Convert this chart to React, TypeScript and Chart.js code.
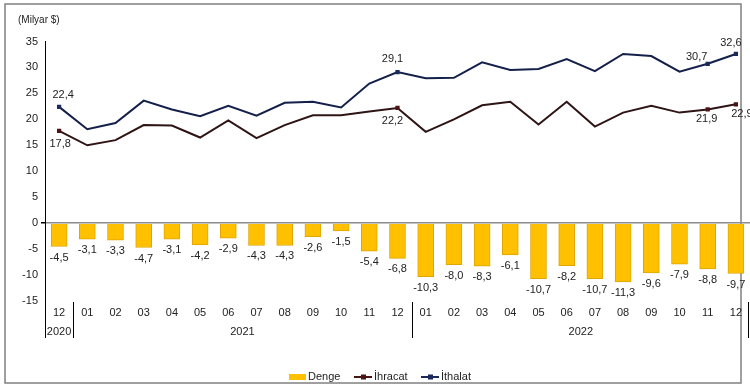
import { useEffect, useRef } from 'react';
import { Chart, registerables } from 'chart.js';

Chart.register(...registerables);

const months = ['12', '01', '02', '03', '04', '05', '06', '07', '08', '09', '10', '11', '12', '01', '02', '03', '04', '05', '06', '07', '08', '09', '10', '11', '12'];
const yearLabels = ['2020', '2021', '2022'];
const yearStart = [0, 1, 13];
const yearEnd = [0, 12, 24];
const denge = [-4.5, -3.1, -3.3, -4.7, -3.1, -4.2, -2.9, -4.3, -4.3, -2.6, -1.5, -5.4, -6.8, -10.3, -8.0, -8.3, -6.1, -10.7, -8.2, -10.7, -11.3, -9.6, -7.9, -8.8, -9.7];
const ihracat = [17.8, 15.0, 16.0, 18.9, 18.8, 16.5, 19.8, 16.4, 18.9, 20.8, 20.8, 21.5, 22.2, 17.6, 20.0, 22.7, 23.4, 19.0, 23.4, 18.6, 21.3, 22.6, 21.3, 21.9, 22.9];
const ithalat = [22.4, 18.1, 19.3, 23.6, 21.9, 20.6, 22.6, 20.7, 23.2, 23.4, 22.3, 26.9, 29.1, 27.9, 28.0, 31.0, 29.5, 29.7, 31.6, 29.3, 32.6, 32.2, 29.2, 30.7, 32.6];
const markedPoints = [0, 12, 23, 24];
const yTicks = { min: -15, max: 35, step: 5 };

const FONT = '"Liberation Sans", Arial, sans-serif';
const fmt = (v: number) => v.toFixed(1).replace('.', ',');

export default function App() {
  const ref = useRef<HTMLCanvasElement | null>(null);
  useEffect(() => {
    if (!ref.current) return;
    const importOff: Record<number, [number, number]> = { 0: [4, -12], 12: [-5, -13], 23: [-11, -7], 24: [-5, -11] };
    const exportOff: Record<number, [number, number]> = { 0: [1, 13], 12: [-5, 13], 23: [-1, 9], 24: [6, 10] };
    const decor = {
      id: 'decor',
      beforeDraw(chart: any) {
        const c = chart.ctx;
        c.save();
        c.fillStyle = '#fff';
        c.fillRect(0, 0, chart.width, chart.height);
        c.strokeStyle = '#808080';
        c.lineWidth = 1.5;
        c.strokeRect(5, 4, 736, 379);
        c.restore();
      },
      afterDraw(chart: any) {
        const c = chart.ctx;
        const x = chart.scales.x;
        const y = chart.scales.y;
        const area = chart.chartArea;
        c.save();
        c.fillStyle = '#222';
        c.textAlign = 'center';
        c.textBaseline = 'middle';
        c.font = `10px ${FONT}`;
        c.textAlign = 'left';
        c.fillText('(Milyar $)', 18, 20);
        c.textAlign = 'center';
        c.font = `11px ${FONT}`;
        months.forEach((m, i) => c.fillText(m, x.getPixelForValue(i), 313));
        yearLabels.forEach((yl, k) => {
          const cx = (x.getPixelForValue(yearStart[k]) + x.getPixelForValue(yearEnd[k])) / 2;
          c.fillText(yl, cx, 332);
        });
        c.strokeStyle = '#000';
        c.lineWidth = 1;
        const band = x.getPixelForValue(1) - x.getPixelForValue(0);
        const seps = [area.left, x.getPixelForValue(0) + band / 2, x.getPixelForValue(12) + band / 2, Math.min(area.right - 1.5, 748)];
        seps.forEach((sx, k) => {
          c.beginPath();
          c.moveTo(Math.round(sx) + 0.5, k === 0 ? area.bottom : area.bottom + 1);
          c.lineTo(Math.round(sx) + 0.5, 338);
          c.stroke();
        });
        const barMeta = chart.getDatasetMeta(0);
        c.font = `11px ${FONT}`;
        barMeta.data.forEach((el: any, i: number) => {
          c.fillText(fmt(denge[i]), el.x, el.y + 11);
        });
        markedPoints.forEach((i) => {
          const xi = x.getPixelForValue(i);
          const yi = y.getPixelForValue(ithalat[i]);
          c.fillText(fmt(ithalat[i]), xi + importOff[i][0], yi + importOff[i][1]);
          const ye = y.getPixelForValue(ihracat[i]);
          c.fillText(fmt(ihracat[i]), xi + exportOff[i][0], ye + exportOff[i][1]);
        });
        const ly = 377;
        c.fillStyle = '#FFC000';
        c.fillRect(289, ly - 3, 17, 6);
        c.fillStyle = '#222';
        c.textAlign = 'left';
        c.fillText('Denge', 308, ly);
        const legLine = (x0: number, color: string, label: string) => {
          c.strokeStyle = color;
          c.lineWidth = 2;
          c.beginPath();
          c.moveTo(x0, ly);
          c.lineTo(x0 + 18, ly);
          c.stroke();
          c.fillStyle = color;
          c.fillRect(x0 + 7, ly - 2.5, 5, 5);
          c.fillStyle = '#222';
          c.fillText(label, x0 + 20, ly);
        };
        legLine(354, '#4a1414', 'İhracat');
        legLine(421, '#1b2a5c', 'İthalat');
        c.restore();
      },
    };
    const chart = new Chart(ref.current, {
      data: {
        labels: months,
        datasets: [
          {
            type: 'bar',
            label: 'Denge',
            data: denge,
            backgroundColor: '#FFC000',
            borderColor: '#E0A500',
            borderWidth: 1,
            barThickness: 16,
            order: 3,
          } as any,
          {
            type: 'line',
            label: 'İhracat',
            data: ihracat,
            borderColor: '#2e1414',
            backgroundColor: '#4a1414',
            borderWidth: 2,
            pointStyle: 'rect',
            pointRadius: (ctx: any) => (markedPoints.includes(ctx.dataIndex) ? 3 : 0),
            pointBorderWidth: 0,
            tension: 0,
            order: 1,
          },
          {
            type: 'line',
            label: 'İthalat',
            data: ithalat,
            borderColor: '#14204a',
            backgroundColor: '#1b2a5c',
            borderWidth: 2,
            pointStyle: 'rect',
            pointRadius: (ctx: any) => (markedPoints.includes(ctx.dataIndex) ? 3 : 0),
            pointBorderWidth: 0,
            tension: 0,
            order: 2,
          },
        ],
      },
      options: {
        responsive: false,
        animation: false,
        layout: { autoPadding: false, padding: { top: 41.5, bottom: 89, left: 0, right: 0 } },
        plugins: { legend: { display: false }, tooltip: { enabled: false } },
        scales: {
          x: { type: 'category', display: false, offset: true },
          y: {
            min: yTicks.min,
            max: yTicks.max,
            afterFit: (s: any) => {
              s.width = 45;
            },
            ticks: { stepSize: yTicks.step, padding: 3, color: '#222', font: { family: FONT, size: 11 } },
            grid: {
              color: (ctx: any) => (ctx.tick && ctx.tick.value === 0 ? '#8c8c8c' : 'transparent'),
              lineWidth: (ctx: any) => (ctx.tick && ctx.tick.value === 0 ? 1.5 : 0),
              tickColor: '#000',
              tickLength: 4,
              drawOnChartArea: true,
            },
            border: { display: true, color: '#000', width: 1 },
          },
        },
      },
      plugins: [decor],
    } as any);
    return () => chart.destroy();
  }, []);
  return (
    <div style={{ position: 'fixed', left: 0, top: 0, width: 750, height: 390, background: '#fff' }}>
      <canvas ref={ref} width={750} height={390} style={{ display: 'block' }} />
    </div>
  );
}
